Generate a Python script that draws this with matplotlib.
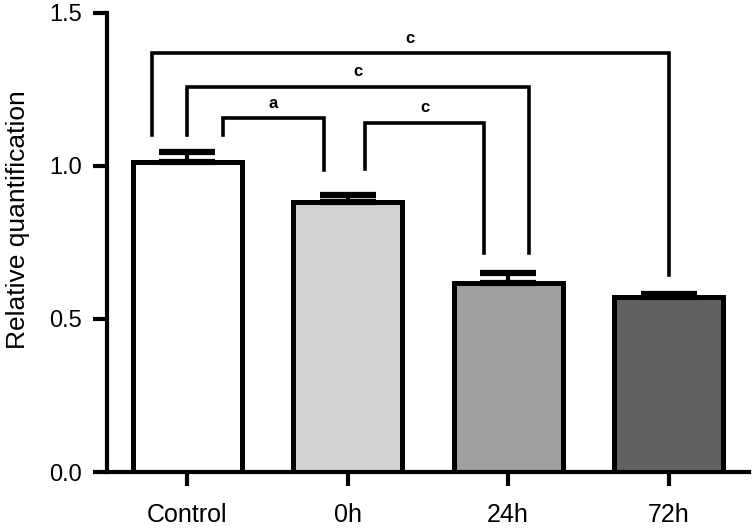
"""Relative quantification bar chart with significance brackets."""

import matplotlib
matplotlib.use("Agg")
import matplotlib.pyplot as plt
import numpy as np

plt.rcParams["font.family"] = ["Liberation Sans", "DejaVu Sans"]

# data
groups = ["Control", "0h", "24h", "72h"]
means = [1.013, 0.882, 0.618, 0.573]
sem = [0.032, 0.022, 0.033, 0.008]
bar_colors = ["#ffffff", "#d3d3d3", "#a0a0a0", "#616161"]

# significance brackets: (left group, right group, label)
brackets = [
    (0, 3, "c"),
    (0, 2, "c"),
    (0, 1, "a"),
    (1, 2, "c"),
]
# bracket layout: bar height, left leg (offset, bottom), right leg (offset, bottom)
bracket_layout = [
    (1.368, (-0.22, 1.10), (0.00, 0.645)),
    (1.258, (0.00, 1.10), (0.13, 0.715)),
    (1.155, (0.22, 1.10), (-0.15, 0.988)),
    (1.140, (0.11, 0.990), (-0.15, 0.715)),
]

fig = plt.figure(figsize=(7.54, 5.31), dpi=100, facecolor="white")
ax = fig.add_axes([0.142, 0.111, 0.851, 0.865])

x = np.arange(len(groups))
ax.bar(x, means, width=0.68, color=bar_colors, edgecolor="black",
       linewidth=3.6, zorder=2)
ax.errorbar(x, means, yerr=[np.zeros(len(sem)), sem], fmt="none",
            ecolor="black", elinewidth=3, capsize=20, capthick=4.5, zorder=3)

for (g1, g2, label), (h, (o1, b1), (o2, b2)) in zip(brackets, bracket_layout):
    x1, x2 = g1 + o1, g2 + o2
    ax.plot([x1, x1, x2, x2], [b1, h, h, b2], color="black", lw=2.6,
            solid_joinstyle="miter", clip_on=False, zorder=4)
    ax.text((x1 + x2) / 2, h + 0.025, label, ha="center", va="bottom",
            fontsize=12, fontweight="bold")

ax.set_xlim(-0.5, 3.5)
ax.set_ylim(0, 1.5)
ax.set_yticks([0.0, 0.5, 1.0, 1.5])
ax.set_yticklabels(["0.0", "0.5", "1.0", "1.5"])
ax.set_xticks(x)
ax.set_xticklabels(groups, fontsize=18)
ax.set_ylabel("Relative quantification", fontsize=19)
ax.yaxis.set_label_coords(-0.12, 0.55)

for side in ["top", "right"]:
    ax.spines[side].set_visible(False)
for side in ["left", "bottom"]:
    ax.spines[side].set_linewidth(3)
ax.tick_params(axis="both", width=3, length=10)
ax.tick_params(axis="y", pad=8, labelsize=17)
ax.tick_params(axis="x", pad=12)

fig.savefig("out.png", dpi=100, facecolor="white")
plt.close(fig)
